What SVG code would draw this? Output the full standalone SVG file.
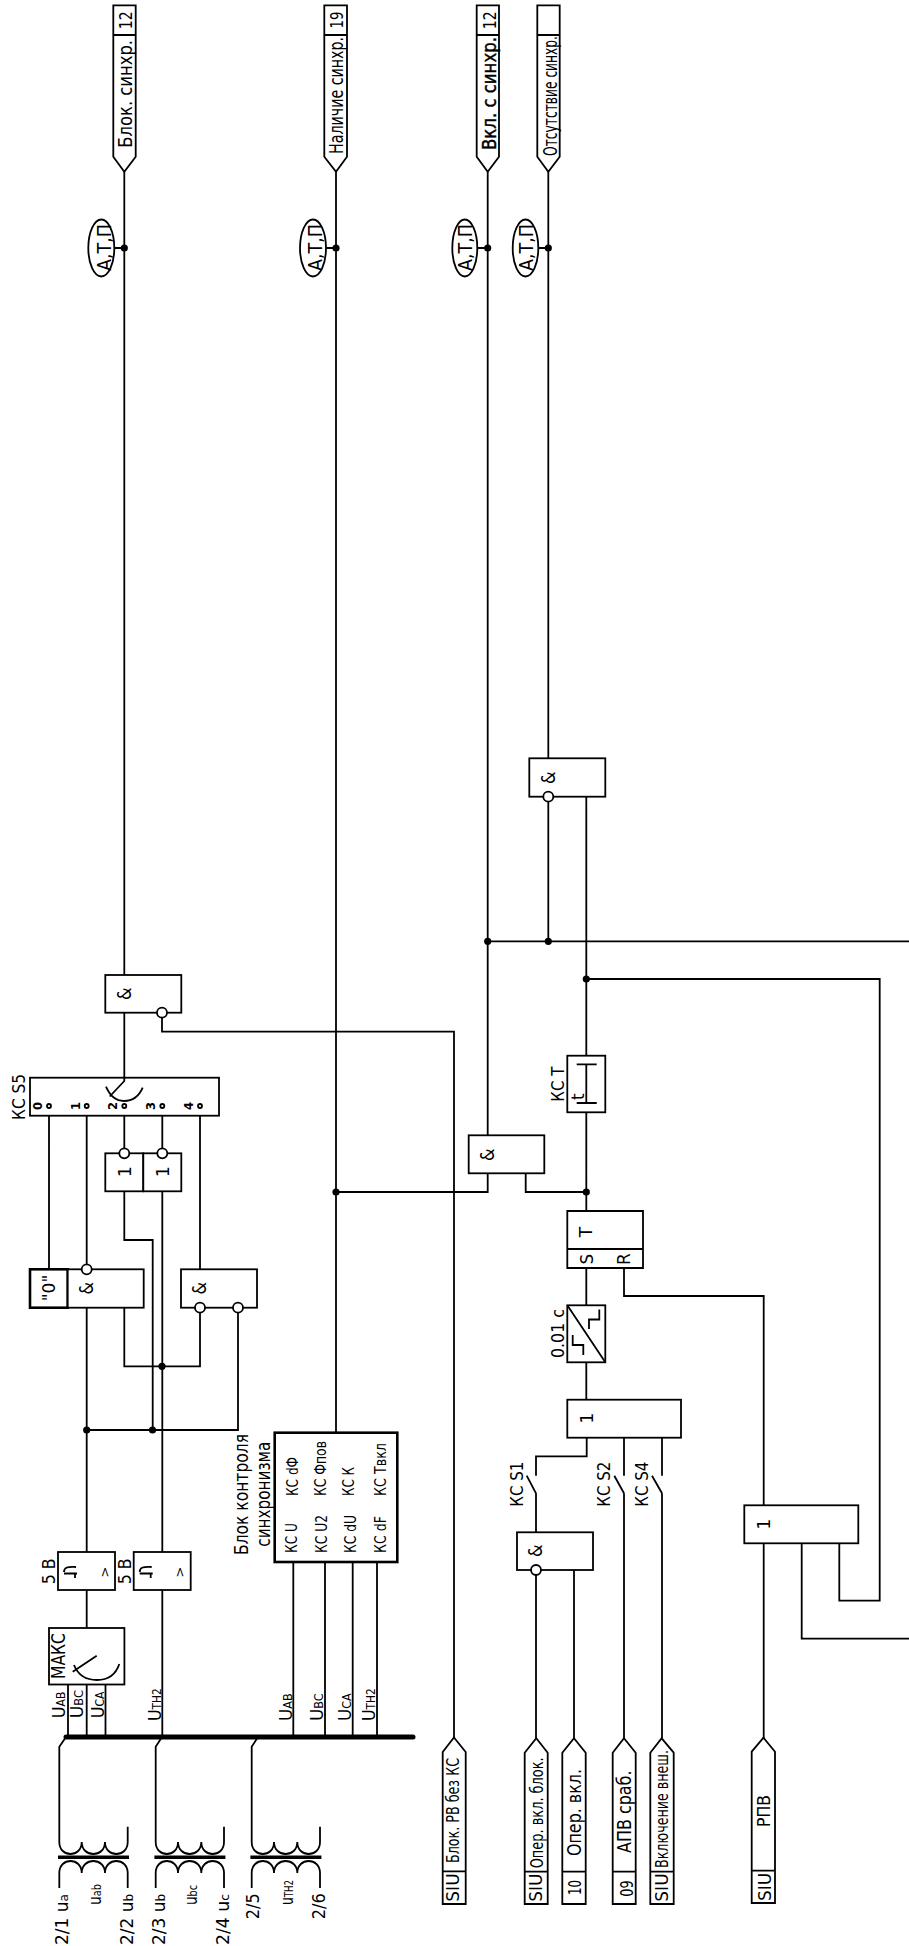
<svg xmlns="http://www.w3.org/2000/svg" width="909" height="1946" viewBox="0 0 909 1946">
<defs><style>
text{font-family:"DejaVu Sans",sans-serif;font-size:17px;fill:#000;stroke:none}
.m{text-anchor:middle}
.s{font-size:15px}
.f19{font-size:19px}
.f18{font-size:18px}
.gt{font-size:13px}
.bd{stroke:#000;stroke-width:.4}
.d{font-size:11.5px;font-weight:bold}
.b{fill:#fff;stroke:#000;stroke-width:1.8}
.k{fill:#fff;stroke:#000;stroke-width:2.6}
.w{fill:none;stroke:#000;stroke-width:1.8}
.j{fill:#000;stroke:none}
.i{fill:#fff;stroke:#000;stroke-width:1.8}
</style></defs>
<rect width="909" height="1946" fill="#fff"/>
<g id="connectors" class="w">
<path d="M124.3 171.7V975M124.3 1012.7V1077.7"/>
<path d="M336 171.7V1432.7"/>
<path d="M487.7 171.7V1135.3"/>
<path d="M548.3 171.7V758.3"/>
<path d="M101.3 248H124.3M312.7 248H336M464.8 248H487.7M525.5 248H548.3"/>
<path d="M548.3 801.7V941.3M586.3 796.7V1055.7M487.7 941.3H909M586.3 979H879.7V1600.7H839.3V1543.3"/>
<path d="M586.3 1112.3V1211M487.7 1173.3V1192H336M525.7 1173.3V1192H586.3"/>
<path d="M586.3 1268V1305.3M586.3 1362.3V1399.7M624 1268V1296H763.7V1505.3M763.7 1543.3V1738M801.7 1543.3V1638.7H909"/>
<path d="M586.7 1437.7V1456.3H536V1475.7M536 1493.3L526.7 1475.7M536 1493.3V1532.3M536 1575V1738M574 1570V1738"/>
<path d="M624 1437.7V1475.7M624 1493.3L614.3 1475.7M624 1493.3V1738M662 1437.7V1475.7M662 1493.3L652 1475.7M662 1493.3V1738"/>
<path d="M162 1017.7V1031.7H454V1738"/>
<path d="M49 1108V1269.3M86.7 1108V1264.3M124.3 1108V1148.3M162.3 1108V1148.3M200 1108V1269.3"/>
<path d="M124.3 1191.3V1240H152.7V1430M162.3 1191.3V1552M162.3 1590V1737"/>
<path d="M86.7 1307.7V1552M86.7 1590V1628M124.3 1307.7V1366.3H200V1312.7M238 1312.7V1430H86.7"/>
<path d="M68 1684.5V1737M86.7 1684.5V1737M105.5 1684.5V1737M293.3 1562V1737M325 1562V1737M352.7 1562V1737M377 1562V1737"/>
<path d="M66 1737L59.3 1746.7V1842M162 1737L155.7 1746.7V1842M258 1737L251.7 1746.7V1842"/>
<path d="M66 1737H413" stroke-width="5" stroke-linecap="round"/>
<g id="junctions" class="j">
<circle cx="124.3" cy="248" r="3.6"/><circle cx="336" cy="248" r="3.6"/><circle cx="487.7" cy="248" r="3.6"/><circle cx="548.3" cy="248" r="3.6"/>
<circle cx="487.7" cy="941.3" r="3.6"/><circle cx="548.3" cy="941.3" r="3.6"/><circle cx="586.3" cy="979" r="3.6"/><circle cx="586.3" cy="1192" r="3.6"/><circle cx="336" cy="1192" r="3.6"/>
<circle cx="162" cy="1366.3" r="3.6"/><circle cx="152.5" cy="1430" r="3.6"/><circle cx="86.7" cy="1430" r="3.6"/>
</g>
</g>

<g id="out-blok"><path class="b" d="M113.3 5.3H135.7V156.7L124.3 171.7L113.3 156.7ZM113.3 35H135.7"/>
<text transform="rotate(-90 131.7 29.3)" x="131.7" y="29.3" textLength="18" lengthAdjust="spacingAndGlyphs">12</text>
<text class="f19" transform="rotate(-90 131.7 147.7)" x="131.7" y="147.7" textLength="107.7" lengthAdjust="spacingAndGlyphs">Блок. синхр.</text></g>
<g id="out-nalichie"><path class="b" d="M324.3 5.3H347V156.7L336 171.7L324.3 156.7ZM324.3 35H347"/>
<text transform="rotate(-90 343 28.5)" x="343" y="28.5" textLength="17" lengthAdjust="spacingAndGlyphs">19</text>
<text class="f19" transform="rotate(-90 343 154)" x="343" y="154" textLength="117" lengthAdjust="spacingAndGlyphs">Наличие синхр.</text></g>
<g id="out-vkl"><path class="b" d="M476.7 5.3H499V156.7L487.7 171.7L476.7 156.7ZM476.7 35H499"/>
<text transform="rotate(-90 495.7 29.3)" x="495.7" y="29.3" textLength="18" lengthAdjust="spacingAndGlyphs">12</text>
<text class="f19 bd" transform="rotate(-90 495.7 150)" x="495.7" y="150" textLength="113" lengthAdjust="spacingAndGlyphs">Вкл. с синхр.</text></g>
<g id="out-otsut"><path class="b" d="M537.3 5.3H559.7V156.7L548.3 171.7L537.3 156.7ZM537.3 35H559.7"/>
<text class="f19" transform="translate(556.7 156) rotate(-90) scale(.68 1)" textLength="176.5" lengthAdjust="spacingAndGlyphs">Отсутствие синхр.</text></g>

<g id="oval1"><ellipse class="b" cx="101.3" cy="248" rx="13" ry="28.5"/><text class="f19" transform="rotate(-90 110.5 271)" x="110.5" y="271" textLength="47" lengthAdjust="spacingAndGlyphs">А,Т,П</text></g>
<g id="oval2"><ellipse class="b" cx="313" cy="248" rx="13" ry="28.5"/><text class="f19" transform="rotate(-90 321.5 271)" x="321.5" y="271" textLength="47" lengthAdjust="spacingAndGlyphs">А,Т,П</text></g>
<g id="oval3"><ellipse class="b" cx="464.8" cy="248" rx="12.5" ry="28.5"/><text class="f19" transform="rotate(-90 472.3 271)" x="472.3" y="271" textLength="47" lengthAdjust="spacingAndGlyphs">А,Т,П</text></g>
<g id="oval4"><ellipse class="b" cx="525.5" cy="248" rx="12.8" ry="28.5"/><text class="f19" transform="rotate(-90 533.3 271)" x="533.3" y="271" textLength="47" lengthAdjust="spacingAndGlyphs">А,Т,П</text></g>

<g id="and-top"><rect class="b" x="529.3" y="758.3" width="76" height="38.4"/><circle class="i" cx="548.3" cy="796.7" r="5"/><text class="f19" transform="rotate(-90 555 784)" x="555" y="784" textLength="12.5" lengthAdjust="spacingAndGlyphs">&amp;</text></g>
<g id="and-left"><rect class="b" x="105.3" y="975" width="76" height="37.7"/><circle class="i" cx="162" cy="1012.7" r="5"/><text class="f19" transform="rotate(-90 130.5 1000)" x="130.5" y="1000" textLength="12.5" lengthAdjust="spacingAndGlyphs">&amp;</text></g>
<g id="ks5"><rect class="b" x="30" y="1077.7" width="189" height="38"/>
<path class="w" d="M124.3 1077.7V1081L109.7 1096.5M106 1086.7Q112 1101 124 1101Q137 1101 142.7 1087.7"/>
<g class="i"><circle cx="49" cy="1106" r="2"/><circle cx="86.7" cy="1106" r="2"/><circle cx="124.3" cy="1106" r="2"/><circle cx="162.3" cy="1106" r="2"/><circle cx="200" cy="1106" r="2"/></g>
<text class="d m" transform="rotate(-90 42 1106)" x="42" y="1106">0</text>
<text class="d m" transform="rotate(-90 79.5 1106)" x="79.5" y="1106">1</text>
<text class="d m" transform="rotate(-90 117.3 1106)" x="117.3" y="1106">2</text>
<text class="d m" transform="rotate(-90 155 1106)" x="155" y="1106">3</text>
<text class="d m" transform="rotate(-90 193 1106)" x="193" y="1106">4</text>
<text transform="rotate(-90 25 1120)" x="25" y="1120" textLength="46" lengthAdjust="spacingAndGlyphs">КС S5</text></g>
<g id="or-a"><rect class="b" x="105.3" y="1153.3" width="38" height="38"/><circle class="i" cx="124.3" cy="1153.3" r="5"/><text class="m" transform="rotate(-90 130.7 1171.7)" x="130.7" y="1171.7">1</text></g>
<g id="or-b"><rect class="b" x="143.3" y="1153.3" width="38" height="38"/><circle class="i" cx="162.3" cy="1153.3" r="5"/><text class="m" transform="rotate(-90 169 1171.7)" x="169" y="1171.7">1</text></g>
<g id="zero"><rect class="k" x="30" y="1269.3" width="37.7" height="38.4"/><text class="m" transform="rotate(-90 55 1288)" x="55" y="1288">"0"</text></g>
<g id="and-a"><rect class="b" x="67.7" y="1269.3" width="76" height="38.4"/><circle class="i" cx="86.7" cy="1269.3" r="5"/><text class="f19" transform="rotate(-90 92.7 1294.5)" x="92.7" y="1294.5" textLength="12.5" lengthAdjust="spacingAndGlyphs">&amp;</text></g>
<g id="and-b"><rect class="b" x="181" y="1269.3" width="76" height="38.4"/><circle class="i" cx="200" cy="1307.7" r="5"/><circle class="i" cx="238" cy="1307.7" r="5"/><text class="f19" transform="rotate(-90 206 1294.5)" x="206" y="1294.5" textLength="12.5" lengthAdjust="spacingAndGlyphs">&amp;</text></g>
<g id="sync"><rect class="k" x="274.7" y="1432.7" width="122.6" height="129.3"/>
<text class="f19" x="248.3" y="1555" transform="rotate(-90 248.3 1555)" textLength="121" lengthAdjust="spacingAndGlyphs">Блок контроля</text>
<text class="f19" x="270" y="1546.7" transform="rotate(-90 270 1546.7)" textLength="105" lengthAdjust="spacingAndGlyphs">синхронизма</text>
<text class="s" x="296.7" y="1553" transform="rotate(-90 296.7 1553)" textLength="30" lengthAdjust="spacingAndGlyphs">КС U</text>
<text class="s" x="326.7" y="1553" transform="rotate(-90 326.7 1553)" textLength="38" lengthAdjust="spacingAndGlyphs">КС U2</text>
<text class="s" x="355.7" y="1553" transform="rotate(-90 355.7 1553)" textLength="38" lengthAdjust="spacingAndGlyphs">КС dU</text>
<text class="s" x="385.7" y="1553" transform="rotate(-90 385.7 1553)" textLength="37" lengthAdjust="spacingAndGlyphs">КС dF</text>
<text class="s" x="297.7" y="1496" transform="rotate(-90 297.7 1496)" textLength="39" lengthAdjust="spacingAndGlyphs">КС dФ</text>
<text class="s" x="326" y="1496" transform="rotate(-90 326 1496)" textLength="55" lengthAdjust="spacingAndGlyphs">КС Фпов</text>
<text class="s" x="354.3" y="1496" transform="rotate(-90 354.3 1496)" textLength="29" lengthAdjust="spacingAndGlyphs">КС К</text>
<text class="s" x="385.7" y="1496" transform="rotate(-90 385.7 1496)" textLength="53" lengthAdjust="spacingAndGlyphs">КС Твкл</text>
</g>
<g id="cmp1"><rect class="b" x="58" y="1552" width="57" height="38"/>
<path class="w" stroke-width="2" d="M64 1572C64 1566 70 1567 76 1567M64 1573.5H77M75 1573.5V1578"/>
<text class="m gt" transform="rotate(-90 108.5 1572)" x="108.5" y="1572">&gt;</text>
<text x="55" y="1584.3" transform="rotate(-90 55 1584.3)" textLength="26" lengthAdjust="spacingAndGlyphs">5 В</text></g>
<g id="cmp2"><rect class="b" x="133.7" y="1552" width="57" height="38"/>
<path class="w" stroke-width="2" d="M139.7 1572C139.7 1566 145.7 1567 151.7 1567M139.7 1573.5H152.7M150.7 1573.5V1578"/>
<text class="m gt" transform="rotate(-90 184.2 1572)" x="184.2" y="1572">&gt;</text>
<text x="130.7" y="1584.3" transform="rotate(-90 130.7 1584.3)" textLength="26" lengthAdjust="spacingAndGlyphs">5 В</text></g>
<g id="maks"><rect class="b" x="49" y="1628" width="75.4" height="56.5"/>
<text class="f19" x="65" y="1679" transform="rotate(-90 65 1679)" textLength="46" lengthAdjust="spacingAndGlyphs">МАКС</text>
<path class="w" d="M72.7 1671.7L96.7 1655.7M74 1665Q80 1680 97 1680Q114 1680 119.3 1664"/></g>
<g id="bus-labels">
<text class="f18" x="65" y="1718.3" transform="rotate(-90 65 1718.3)" textLength="26.7" lengthAdjust="spacingAndGlyphs">U<tspan font-size="12">AB</tspan></text>
<text class="f18" x="83" y="1718.3" transform="rotate(-90 83 1718.3)" textLength="28.3" lengthAdjust="spacingAndGlyphs">U<tspan font-size="12">BC</tspan></text>
<text class="f18" x="104" y="1718.3" transform="rotate(-90 104 1718.3)" textLength="26.7" lengthAdjust="spacingAndGlyphs">U<tspan font-size="12">CA</tspan></text>
<text class="f18" x="161" y="1721" transform="rotate(-90 161 1721)" textLength="32.7" lengthAdjust="spacingAndGlyphs">U<tspan font-size="12">ТН2</tspan></text>
<text class="f18" x="291.7" y="1721" transform="rotate(-90 291.7 1721)" textLength="27.7" lengthAdjust="spacingAndGlyphs">U<tspan font-size="12">AB</tspan></text>
<text class="f18" x="323" y="1721" transform="rotate(-90 323 1721)" textLength="27.7" lengthAdjust="spacingAndGlyphs">U<tspan font-size="12">BC</tspan></text>
<text class="f18" x="351" y="1721" transform="rotate(-90 351 1721)" textLength="27.7" lengthAdjust="spacingAndGlyphs">U<tspan font-size="12">CA</tspan></text>
<text class="f18" x="375" y="1721" transform="rotate(-90 375 1721)" textLength="32.7" lengthAdjust="spacingAndGlyphs">U<tspan font-size="12">ТН2</tspan></text>
</g>
<g id="tr1" class="w"><path d="M59.3 1842C59.3 1858 81.7 1858 81.7 1842C81.7 1858 105 1858 105 1842C105 1858 127.7 1858 127.7 1842V1826.7M59.3 1888V1873C59.3 1857 81.7 1857 81.7 1873C81.7 1857 105 1857 105 1873C105 1857 127.7 1857 127.7 1873V1888"/><path stroke-width="3.6" d="M58 1857.3H129"/></g>
<g id="tr2" class="w"><path d="M155.7 1842C155.7 1858 178 1858 178 1842C178 1858 201.3 1858 201.3 1842C201.3 1858 224 1858 224 1842V1826.7M155.7 1888V1873C155.7 1857 178 1857 178 1873C178 1857 201.3 1857 201.3 1873C201.3 1857 224 1857 224 1873V1888"/><path stroke-width="3.6" d="M154.4 1857.3H225.4"/></g>
<g id="tr3" class="w"><path d="M251.7 1842C251.7 1858 274 1858 274 1842C274 1858 297.3 1858 297.3 1842C297.3 1858 320 1858 320 1842V1826.7M251.7 1888V1873C251.7 1857 274 1857 274 1873C274 1857 297.3 1857 297.3 1873C297.3 1857 320 1857 320 1873V1888"/><path stroke-width="3.6" d="M250.4 1857.3H321.4"/></g>
<g id="tr-labels">
<text x="68" y="1945" transform="rotate(-90 68 1945)" textLength="51" lengthAdjust="spacingAndGlyphs">2/1 u<tspan font-size="12">a</tspan></text>
<text x="100.7" y="1905" transform="rotate(-90 100.7 1905)" textLength="21" lengthAdjust="spacingAndGlyphs">u<tspan font-size="12">ab</tspan></text>
<text x="133" y="1945" transform="rotate(-90 133 1945)" textLength="51" lengthAdjust="spacingAndGlyphs">2/2 u<tspan font-size="12">b</tspan></text>
<text x="165" y="1945" transform="rotate(-90 165 1945)" textLength="51" lengthAdjust="spacingAndGlyphs">2/3 u<tspan font-size="12">b</tspan></text>
<text x="196.7" y="1905" transform="rotate(-90 196.7 1905)" textLength="20" lengthAdjust="spacingAndGlyphs">u<tspan font-size="12">bc</tspan></text>
<text x="229" y="1945" transform="rotate(-90 229 1945)" textLength="51" lengthAdjust="spacingAndGlyphs">2/4 u<tspan font-size="12">c</tspan></text>
<text x="259.3" y="1919.3" transform="rotate(-90 259.3 1919.3)" textLength="26" lengthAdjust="spacingAndGlyphs">2/5</text>
<text x="292.7" y="1905" transform="rotate(-90 292.7 1905)" textLength="25" lengthAdjust="spacingAndGlyphs">u<tspan font-size="12">ТН2</tspan></text>
<text x="325" y="1919.3" transform="rotate(-90 325 1919.3)" textLength="26" lengthAdjust="spacingAndGlyphs">2/6</text>
</g>
<g id="kct"><rect class="b" x="567.3" y="1055.7" width="38" height="56.6"/><path class="w" d="M586.3 1064.3V1103M576.7 1064.3H596.7M576.7 1103H596.7"/>
<text x="583.5" y="1100" transform="rotate(-90 583.5 1100)">t</text>
<text x="564" y="1101.7" transform="rotate(-90 564 1101.7)" textLength="35" lengthAdjust="spacingAndGlyphs">КС Т</text></g>
<g id="and-c"><rect class="b" x="468.7" y="1135.3" width="75.6" height="38"/><text class="f19" x="494" y="1161" transform="rotate(-90 494 1161)" textLength="12.5" lengthAdjust="spacingAndGlyphs">&amp;</text></g>
<g id="trigger"><path class="b" d="M567.3 1211H643V1268H567.3ZM567.3 1249H643"/>
<text class="m" x="591.7" y="1232" transform="rotate(-90 591.7 1232)">Т</text>
<text class="m" x="592.7" y="1259" transform="rotate(-90 592.7 1259)">S</text>
<text class="m" x="630" y="1259" transform="rotate(-90 630 1259)">R</text></g>
<g id="delay"><rect class="b" x="567.3" y="1305.3" width="38" height="57"/>
<path class="w" d="M567.3 1305.3L605.3 1362.3M583.3 1355V1345H572.7V1335M599.3 1309.5V1319.5H589V1329"/>
<text x="564" y="1358" transform="rotate(-90 564 1358)" textLength="49" lengthAdjust="spacingAndGlyphs">0.01 с</text></g>
<g id="or-1"><rect class="b" x="567.3" y="1399.7" width="113.7" height="38"/><text class="m" x="592.7" y="1418" transform="rotate(-90 592.7 1418)">1</text></g>
<g id="and-d"><rect class="b" x="517" y="1532.3" width="76" height="37.7"/><circle class="i" cx="536" cy="1570" r="5"/><text class="f19" x="542" y="1557" transform="rotate(-90 542 1557)" textLength="12.5" lengthAdjust="spacingAndGlyphs">&amp;</text></g>
<g id="sw-labels">
<text x="522.7" y="1506.7" transform="rotate(-90 522.7 1506.7)" textLength="45" lengthAdjust="spacingAndGlyphs">КС S1</text>
<text x="610" y="1506.7" transform="rotate(-90 610 1506.7)" textLength="45" lengthAdjust="spacingAndGlyphs">КС S2</text>
<text x="648" y="1506.7" transform="rotate(-90 648 1506.7)" textLength="45" lengthAdjust="spacingAndGlyphs">КС S4</text>
</g>
<g id="or-2"><rect class="b" x="744.3" y="1505.3" width="114" height="38"/><text class="m" x="770" y="1524" transform="rotate(-90 770 1524)">1</text></g>

<g id="in-blokrv"><path class="b" d="M454 1737.5L465.7 1752V1904H442.7V1752ZM442.7 1871.3H465.7"/>
<text x="459.3" y="1901.7" transform="rotate(-90 459.3 1901.7)" textLength="28.3" lengthAdjust="spacingAndGlyphs">SIU</text>
<text class="f18" x="459.3" y="1863" transform="rotate(-90 459.3 1863)" textLength="105" lengthAdjust="spacingAndGlyphs">Блок. РВ без КС</text></g>
<g id="in-opblok"><path class="b" d="M536.3 1738.3L547.7 1752.7V1904H524.7V1752.7ZM524.7 1871.7H547.7"/>
<text x="541.7" y="1901.7" transform="rotate(-90 541.7 1901.7)" textLength="28.3" lengthAdjust="spacingAndGlyphs">SIU</text>
<text x="542.7" y="1868.3" transform="rotate(-90 542.7 1868.3)" textLength="111" lengthAdjust="spacingAndGlyphs">Опер. вкл. блок.</text></g>
<g id="in-op"><path class="b" d="M574 1738.3L585.7 1752.7V1904H562.3V1752.7ZM562.3 1871.7H585.7"/>
<text x="580.7" y="1895" transform="rotate(-90 580.7 1895)" textLength="15" lengthAdjust="spacingAndGlyphs">10</text>
<text class="f19" x="580.7" y="1856" transform="rotate(-90 580.7 1856)" textLength="87" lengthAdjust="spacingAndGlyphs">Опер. вкл.</text></g>
<g id="in-apv"><path class="b" d="M624 1738.3L635.7 1752.7V1904H612.7V1752.7ZM612.7 1871.7H635.7"/>
<text x="633" y="1896.7" transform="rotate(-90 633 1896.7)" textLength="16.5" lengthAdjust="spacingAndGlyphs">09</text>
<text class="f19" x="630.7" y="1853" transform="rotate(-90 630.7 1853)" textLength="82.5" lengthAdjust="spacingAndGlyphs">АПВ сраб.</text></g>
<g id="in-vkl"><path class="b" d="M661.7 1738.3L673.7 1752.7V1904H650.3V1752.7ZM650.3 1871.7H673.7"/>
<text x="668.3" y="1901.7" transform="rotate(-90 668.3 1901.7)" textLength="28.3" lengthAdjust="spacingAndGlyphs">SIU</text>
<text class="f18" x="668.3" y="1868" transform="rotate(-90 668.3 1868)" textLength="118" lengthAdjust="spacingAndGlyphs">Включение внеш.</text></g>
<g id="in-rpv"><path class="b" d="M763.5 1737.7L775 1751.7V1903H751.7V1751.7ZM751.7 1870.7H775"/>
<text x="770.7" y="1901" transform="rotate(-90 770.7 1901)" textLength="28.3" lengthAdjust="spacingAndGlyphs">SIU</text>
<text class="f18" x="770" y="1827" transform="rotate(-90 770 1827)" textLength="32" lengthAdjust="spacingAndGlyphs">РПВ</text></g>
</svg>
